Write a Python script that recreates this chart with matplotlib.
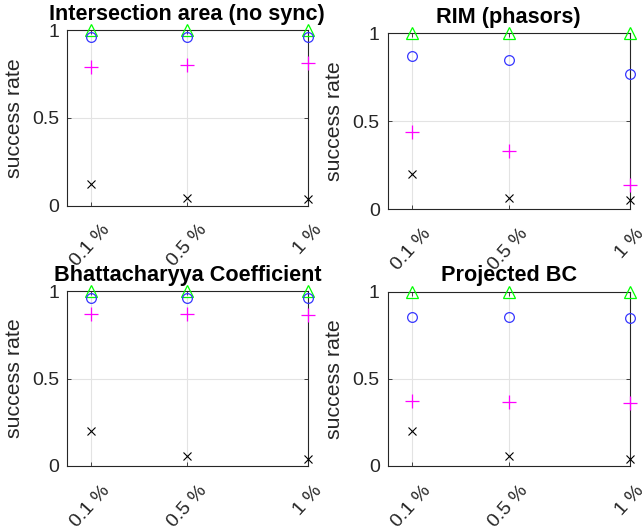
import matplotlib
matplotlib.use("Agg")
import matplotlib.pyplot as plt

plt.rcParams['font.family'] = ['Liberation Sans', 'DejaVu Sans']

noise_levels = [0.1, 0.5, 1.0]
tick_labels = ['0.1 %', '0.5 %', '1 %']

titles = ['Intersection area (no sync)', 'RIM (phasors)',
          'Bhattacharyya Coefficient', 'Projected BC']

# one list per panel, same order as titles
green_tri = [[1.0, 1.0, 1.0],
             [1.0, 1.0, 1.0],
             [1.0, 1.0, 1.0],
             [1.0, 1.0, 1.0]]
blue_circ = [[0.96, 0.96, 0.96],
             [0.871, 0.848, 0.769],
             [0.96, 0.96, 0.96],
             [0.853, 0.853, 0.847]]
magenta_plus = [[0.79, 0.80, 0.81],
                [0.44, 0.33, 0.14],
                [0.867, 0.867, 0.862],
                [0.373, 0.367, 0.359]]
black_cross = [[0.125, 0.045, 0.038],
               [0.20, 0.063, 0.051],
               [0.198, 0.057, 0.038],
               [0.199, 0.057, 0.038]]

# axes boxes in pixels: left, top, right, bottom (figure is 642x529)
W, H = 642, 529
boxes = [(66.7, 30.0, 308.0, 205.7),
         (387.5, 33.3, 630.0, 209.3),
         (66.7, 291.0, 308.0, 466.0),
         (387.5, 291.7, 630.0, 466.0)]

fig = plt.figure(figsize=(W / 100, H / 100), dpi=100)
axis_col = '#262626'

for i in range(4):
    l, t, r, b = boxes[i]
    ax = fig.add_axes([l / W, (H - b) / H, (r - l) / W, (b - t) / H])

    ax.plot(noise_levels, green_tri[i], '^', color='#00ff00', ms=8.6,
            mfc='none', mew=0.9, clip_on=False, zorder=3)
    ax.plot(noise_levels, blue_circ[i], 'o', color='#3636ff', ms=7,
            mfc='none', mew=0.9, clip_on=False, zorder=3)
    ax.plot(noise_levels, magenta_plus[i], '+', color='#ff00ff', ms=9.4,
            mew=0.9, clip_on=False, zorder=3)
    ax.plot(noise_levels, black_cross[i], 'x', color='black', ms=5.8,
            mew=0.8, clip_on=False, zorder=3)

    ax.set_xlim(0, 1)
    ax.set_ylim(0, 1)
    ax.set_xticks(noise_levels)
    ax.set_xticklabels(tick_labels, rotation=48, ha='center', va='top',
                       fontsize=13.5)
    ax.set_yticks([0, 0.5, 1])
    ax.set_yticklabels(['0', '0.5', '1'])
    ax.tick_params(axis='both', direction='in', length=3, width=0.6,
                   labelsize=14, colors=axis_col, top=True, right=True)
    ax.tick_params(axis='x', pad=11.5)
    ax.tick_params(axis='y', pad=5.5)
    ax.grid(True, color='#e3e3e3', lw=0.8)
    ax.set_axisbelow(True)
    for s in ax.spines.values():
        s.set_color(axis_col)
        s.set_linewidth(0.8)

    ax.set_ylabel('success rate', fontsize=15.4, color=axis_col, labelpad=6)
    ax.set_title(titles[i], fontsize=15.6, fontweight='bold', pad=7.5)

fig.savefig('out.png', dpi=100)
